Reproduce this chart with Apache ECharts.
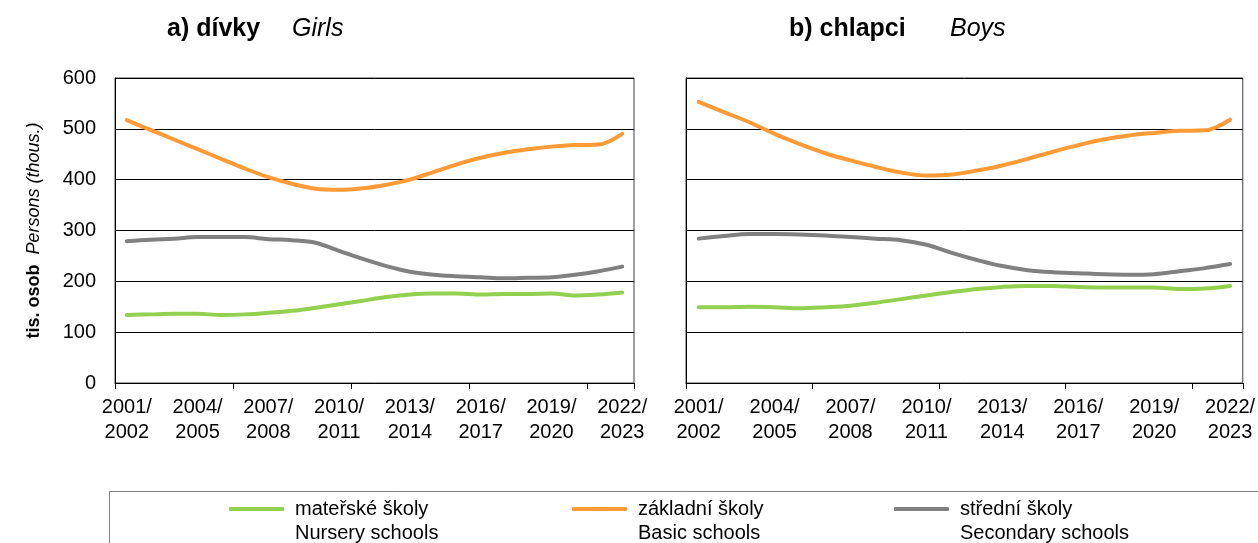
<!DOCTYPE html>
<html>
<head>
<meta charset="utf-8">
<script src="https://cdn.jsdelivr.net/npm/echarts@6/dist/echarts.min.js"></script>
<style>
  html, body { margin: 0; padding: 0; background: #fff; }
  #chart { width: 1258px; height: 543px; }
</style>
</head>
<body>
<div id="chart"></div>
<script>
  // skolni roky 2001/2002 .. 2022/2023
  var years = [];
  for (var y = 2001; y <= 2022; y++) years.push(y + '/\n' + (y + 1));

  // divky (tis.)
  var girlsNursery = [134, 135, 136, 136, 134, 135, 138, 142, 148, 155, 162, 169, 174, 176, 176, 174, 175, 175, 176, 172, 174, 178];
  var girlsBasic = [517, 498, 479, 460, 441, 422, 405, 392, 382, 380, 383, 390, 400, 415, 430, 443, 453, 460, 465, 468, 469, 490];
  var girlsSecondary = [279, 282, 284, 287, 287, 287, 283, 281, 276, 260, 244, 230, 219, 213, 210, 208, 206, 207, 208, 213, 220, 229];

  // chlapci (tis.)
  var boysNursery = [149, 149, 150, 149, 147, 149, 152, 158, 165, 172, 179, 185, 189, 191, 191, 189, 188, 188, 188, 185, 186, 191];
  var boysBasic = [553, 533, 513, 490, 470, 452, 438, 425, 414, 408, 410, 418, 428, 441, 455, 468, 479, 487, 492, 496, 497, 518];
  var boysSecondary = [284, 289, 293, 293, 292, 290, 287, 284, 281, 272, 256, 242, 230, 222, 218, 216, 214, 213, 214, 220, 226, 234];

  var names = ['mateřské školy', 'základní školy', 'střední školy'];
  var namesEn = ['Nursery schools', 'Basic schools', 'Secondary schools'];
  var colors = ['#92D050', '#FF9A36', '#808080'];

  var FONT = 'Liberation Sans, Arial, sans-serif';

  function xAxisFor(i) {
    return {
      type: 'category', gridIndex: i, data: years,
      axisLine: { show: true, lineStyle: { color: '#000', width: 1 } },
      axisTick: { show: true, interval: 4, length: 6, lineStyle: { color: '#000', width: 1 } },
      axisLabel: { interval: 2, color: '#000', fontSize: 20, fontFamily: FONT, lineHeight: 25, margin: 12 }
    };
  }
  function yAxisFor(i) {
    var ax = {
      type: 'value', gridIndex: i, min: 0, max: 600, interval: 100,
      axisLine: { show: true, lineStyle: { color: '#000', width: 1 } },
      axisTick: { show: false },
      splitLine: { show: true, lineStyle: { color: '#000', width: 1 } },
      axisLabel: { show: i === 0, color: '#000', fontSize: 20, fontFamily: FONT, margin: 19 }
    };
    if (i === 0) {
      ax.name = '{b|tis. osob}   {i|Persons (thous.)}';
      ax.nameLocation = 'middle';
      ax.nameGap = 72;
      ax.nameTextStyle = {
        rich: {
          b: { fontSize: 18, fontWeight: 'bold', fontFamily: FONT, color: '#000' },
          i: { fontSize: 18, fontStyle: 'italic', fontFamily: FONT, color: '#000' }
        }
      };
    }
    return ax;
  }
  function line(name, data, idx, color) {
    return {
      name: name, type: 'line', xAxisIndex: idx, yAxisIndex: idx, data: data,
      smooth: 0.35, showSymbol: false, symbol: 'none',
      lineStyle: { color: color, width: 4, cap: 'round' },
      itemStyle: { color: color }
    };
  }
  function legendFor(k, left) {
    return {
      data: [names[k]], left: left, top: 473, padding: 0,
      icon: 'roundRect', itemWidth: 55, itemHeight: 4,
      formatter: function (n) { return ' \n' + n + '\n' + namesEn[k]; },
      textStyle: { fontSize: 20, fontFamily: FONT, color: '#000', lineHeight: 24, padding: [0, 0, 0, 6] }
    };
  }
  function titleText(text, left, bold) {
    return {
      text: text, left: left, top: 17, padding: 0,
      textStyle: { fontSize: 25, fontFamily: FONT, color: '#000', fontWeight: bold ? 'bold' : 'normal', fontStyle: bold ? 'normal' : 'italic' }
    };
  }

  var myChart = echarts.init(document.getElementById('chart'));
  myChart.setOption({
    animation: false,
    backgroundColor: '#fff',
    title: [
      titleText('a) dívky', 167, true),
      titleText('Girls', 292, false),
      titleText('b) chlapci', 789, true),
      titleText('Boys', 950, false)
    ],
    grid: [
      { left: 115, top: 78, width: 519, height: 305, show: true, borderColor: '#404040', borderWidth: 1 },
      { left: 686, top: 78, width: 563, height: 305, show: true, borderColor: '#404040', borderWidth: 1 }
    ],
    xAxis: [xAxisFor(0), xAxisFor(1)],
    yAxis: [yAxisFor(0), yAxisFor(1)],
    legend: [legendFor(0, 229), legendFor(1, 572), legendFor(2, 894)],
    graphic: [{
      type: 'rect', left: 107, top: 489, silent: true,
      shape: { width: 1160, height: 70 },
      style: { fill: 'none', stroke: '#808080', lineWidth: 1 }
    }],
    series: [
      line(names[0], girlsNursery, 0, colors[0]),
      line(names[1], girlsBasic, 0, colors[1]),
      line(names[2], girlsSecondary, 0, colors[2]),
      line(names[0], boysNursery, 1, colors[0]),
      line(names[1], boysBasic, 1, colors[1]),
      line(names[2], boysSecondary, 1, colors[2])
    ]
  });
</script>
</body>
</html>
